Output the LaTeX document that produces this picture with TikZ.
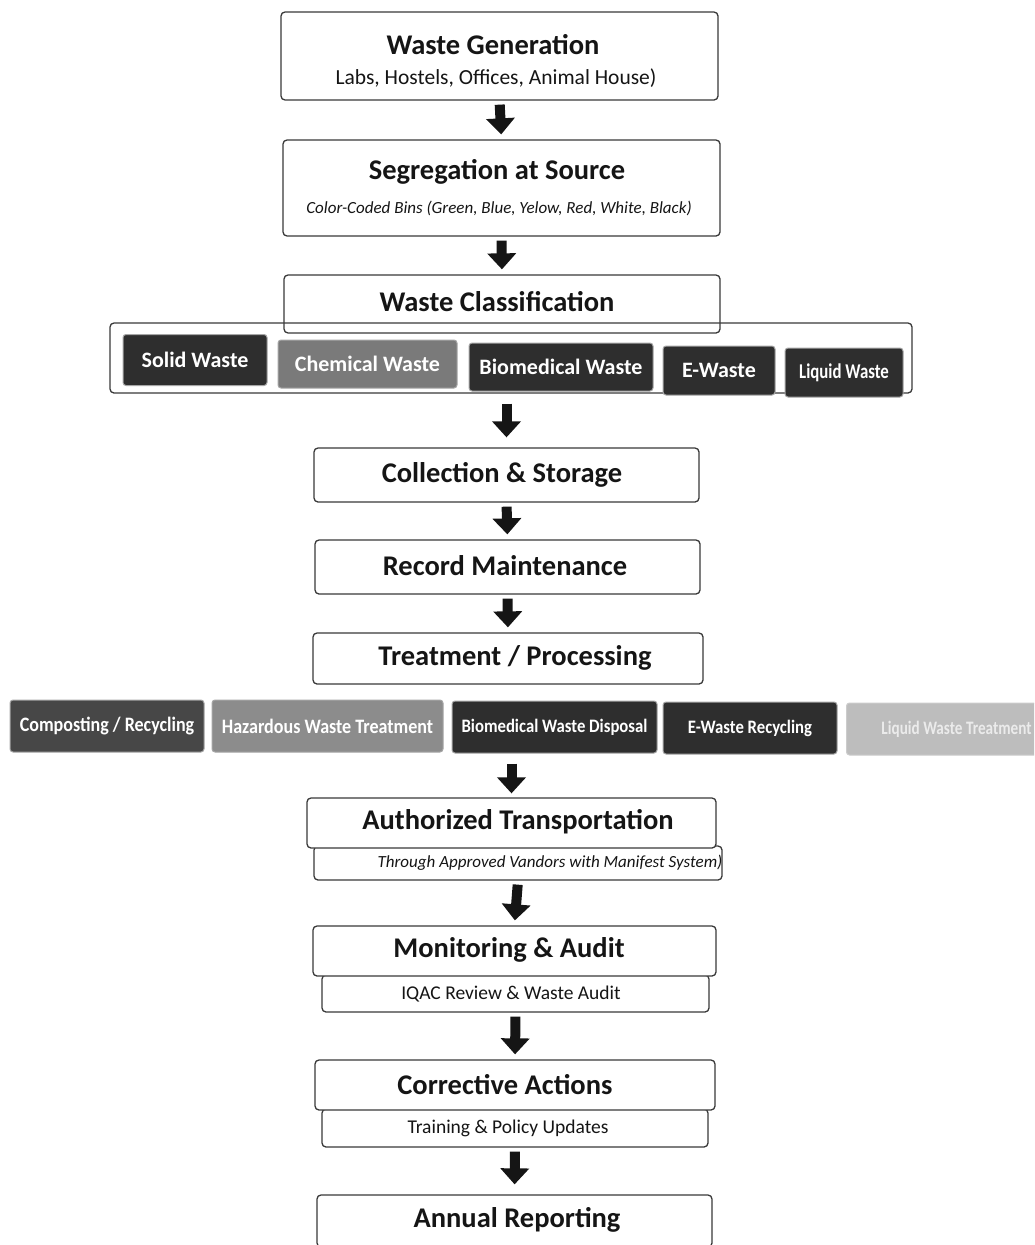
\documentclass[tikz,border=0pt]{standalone}
\usepackage{fontspec}
\setmainfont{Carlito}
\newfontfamily\condfont[FakeStretch=0.88]{Carlito}
\newfontfamily\narrowfont[FakeStretch=0.8]{Carlito}
\usetikzlibrary{arrows.meta,fit}
\definecolor{ink}{HTML}{151515}
\definecolor{edge}{HTML}{3A3A3A}
\definecolor{chipdark}{HTML}{2E2E2E}
\definecolor{chipmid}{HTML}{7A7A7A}
\definecolor{chiplight}{HTML}{BDBDBD}
\begin{document}
\begin{tikzpicture}[x=1pt,y=-1pt,
  box/.style={draw=edge, line width=1.3pt, rounded corners=4pt, inner sep=0pt},
  title/.style={text=ink, font=\fontsize{28.5}{31}\selectfont\bfseries, inner sep=0pt},
  sub/.style={text=ink, font=\fontsize{21.5}{24}\selectfont, inner sep=0pt},
  subit/.style={text=ink, font=\fontsize{17}{20}\selectfont\itshape, inner sep=0pt},
  chip/.style={draw=black!35, line width=1pt, rounded corners=3pt, text=white,
    font=\fontsize{22}{25}\selectfont\bfseries, inner sep=0pt},
  tchip/.style={draw=black!35, line width=1pt, rounded corners=3pt, text=white,
    font=\condfont\fontsize{19}{22}\selectfont\bfseries, inner sep=0pt},
  bigarrow/.style={draw=ink, line width=10pt, -{Triangle[width=28pt,length=16pt]},
    shorten <=4pt, shorten >=5pt}
]
\clip (0,0) rectangle (1034,1245);
\fill[white] (0,0) rectangle (1034,1245);

% 1 Waste Generation
\node[box, minimum width=437pt, minimum height=88pt] (gen) at (499.5,56) {};
\node[title] (genT) at (493,45) {Waste Generation};
\node[sub] (genS) at (496,78) {Labs, Hostels, Offices, Animal House)};

% 2 Segregation
\node[box, minimum width=437pt, minimum height=96pt] (seg) at (501.5,188) {};
\node[title] (segT) at (497,172) {Segregation at Source};
\node[subit] (segS) at (499,208) {Color-Coded Bins (Green, Blue, Yelow, Red, White, Black)};

% 3 Classification
\node[box, minimum width=436pt, minimum height=58pt] (cls) at (502,304) {};
\node[title] (clsT) at (497,302) {Waste Classification};

% category container
\node[box, minimum width=802pt, minimum height=70pt] (cat) at (511,358) {};
\node[chip, fill=chipdark, minimum width=144pt, minimum height=51pt] (c1) at (195,360) {Solid Waste};
\node[chip, fill=chipmid, minimum width=179pt, minimum height=48pt] (c2) at (367.5,364) {Chemical Waste};
\node[chip, fill=chipdark, minimum width=184pt, minimum height=48pt] (c3) at (561,367) {Biomedical Waste};
\node[chip, fill=chipdark, minimum width=112pt, minimum height=49pt] (c4) at (719,370.5) {E-Waste};
\node[chip, fill=chipdark, minimum width=118pt, minimum height=49pt,
  font=\narrowfont\fontsize{21}{24}\selectfont\bfseries] (c5) at (844,372.5) {Liquid Waste};

% 4 Collection
\node[box, minimum width=385pt, minimum height=54pt] (col) at (506.5,475) {};
\node[title] (colT) at (502,475) {Collection \& Storage};

% 5 Record
\node[box, minimum width=385pt, minimum height=54pt] (rec) at (507.5,567) {};
\node[title] (recT) at (505,566) {Record Maintenance};

% 6 Treatment
\node[box, minimum width=390pt, minimum height=51pt] (trt) at (508,658.5) {};
\node[title] (trtT) at (515,658) {Treatment / Processing};

% treatment chips
\node[tchip, fill=black!72, minimum width=194pt, minimum height=52pt,
  font=\condfont\fontsize{20.5}{23}\selectfont\bfseries] (t1) at (107,726) {Composting / Recycling};
\node[tchip, fill=black!45, minimum width=231pt, minimum height=52pt,
  font=\condfont\fontsize{20.5}{23}\selectfont\bfseries] (t2) at (327.5,726) {Hazardous Waste Treatment};
\node[tchip, fill=chipdark, minimum width=205pt, minimum height=52pt] (t3) at (554.5,727) {Biomedical Waste Disposal};
\node[tchip, fill=chipdark, minimum width=174pt, minimum height=52pt] (t4) at (750,728) {E-Waste Recycling};
\node[tchip, fill=chiplight, draw=black!20, minimum width=210pt, minimum height=52pt, text=white!92!black,
  font=\narrowfont\fontsize{19}{22}\selectfont\bfseries,
  anchor=west] (t5) at (846,729) {\hspace*{10pt}Liquid Waste Treatment\hfill};
\node[fit=(t1)(t5), inner sep=0pt] (trow) {};

% 7 Transportation
\node[box, minimum width=408pt, minimum height=34pt] (trnS) at (518,863) {};
\node[box, fill=white, minimum width=409pt, minimum height=50pt] (trn) at (511.5,823) {};
\node[title] (trnT) at (518,822) {Authorized Transportation};
\node[subit] (trnST) at (550,863) {Through Approved Vandors with Manifest System)};

% 8 Monitoring
\node[box, minimum width=387pt, minimum height=37pt] (monS) at (515.5,993.5) {};
\node[box, fill=white, minimum width=403pt, minimum height=50pt] (mon) at (514.5,951) {};
\node[title] (monT) at (509,950) {Monitoring \& Audit};
\node[sub, font=\fontsize{19.5}{22}\selectfont] (monST) at (511,994) {IQAC Review \& Waste Audit};

% 9 Corrective
\node[box, minimum width=386pt, minimum height=38pt] (corS) at (515,1128) {};
\node[box, fill=white, minimum width=400pt, minimum height=50pt] (cor) at (515,1085) {};
\node[title] (corT) at (505,1085) {Corrective Actions};
\node[sub, font=\fontsize{19.5}{22}\selectfont] (corST) at (508,1128) {Training \& Policy Updates};

% 10 Annual
\node[box, minimum width=395pt, minimum height=52pt] (ann) at (514.5,1221) {};
\node[title] (annT) at (517,1220) {Annual Reporting};

% arrows
\draw[bigarrow] (gen.south) -- (seg.north);
\draw[bigarrow] (seg.south) -- (cls.north);
\draw[bigarrow, shorten <=10pt, shorten >=10pt] (cat.south -| col.north) -- (col.north);
\draw[bigarrow] (col.south) -- (rec.north);
\draw[bigarrow] (rec.south) -- (trt.north);
\draw[bigarrow, shorten <=8pt, shorten >=4pt] (trow.south -| trn.north) -- (trn.north);
\draw[bigarrow] (trnS.south) -- (mon.north);
\draw[bigarrow] (monS.south) -- (cor.north);
\draw[bigarrow, shorten >=10pt] (corS.south) -- (ann.north);
\end{tikzpicture}
\end{document}
